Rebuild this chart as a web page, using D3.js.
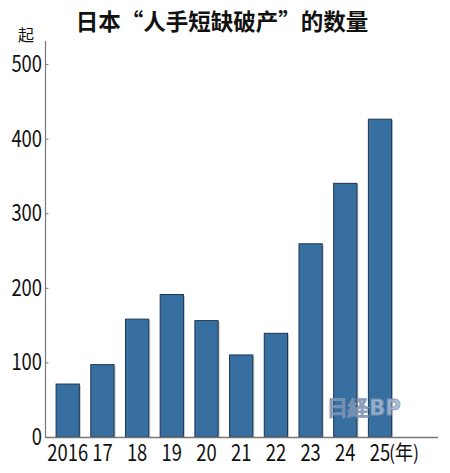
<!DOCTYPE html>
<html><head><meta charset="utf-8">
<script src="https://cdn.jsdelivr.net/npm/d3@7"></script>
<style>
html,body{margin:0;padding:0;background:#fff;}
svg{display:block;}
.num{font-family:"Noto Sans CJK SC","Noto Sans",sans-serif;font-size:23px;fill:#111;}
</style></head>
<body>
<svg id="chart" width="450" height="473"></svg>
<script>
const years = ["2016","17","18","19","20","21","22","23","24","25"];
const counts = [71, 97, 158, 191, 156, 110, 139, 259, 340, 426];
const yTicks = [0, 100, 200, 300, 400, 500];
const title = "日本“人手短缺破产”的数量";
const unitLabel = "起";
const yearSuffix = "(年)";
const watermark = "日経BP";

const svg = d3.select("#chart");
const x = d3.scaleBand().domain(years).range([50.35, 397.35]).paddingInner(0.33).paddingOuter(0.165);
const y = d3.scaleLinear().domain([0, 500]).range([437, 64]);
const SX = 0.8;

// title
svg.append("text").attr("x", 222).attr("y", 30).attr("text-anchor", "middle")
  .style("font-family", "'Noto Sans CJK SC',sans-serif").style("font-weight", "bold")
  .style("font-size", "22.5px").attr("fill", "#111").text(title);

// unit
svg.append("text").attr("x", 26).attr("y", 41).attr("text-anchor", "middle")
  .style("font-family", "'Noto Sans CJK SC',sans-serif").style("font-size", "16px")
  .attr("fill", "#111").text(unitLabel);

// bars shadow
svg.append("g").selectAll("rect").data(years).join("rect")
  .attr("x", d => x(d) + 1.5).attr("y", (d, i) => y(counts[i]) + 1)
  .attr("width", x.bandwidth()).attr("height", (d, i) => y(0) - y(counts[i]) - 1)
  .attr("fill", "#c8c8c8");

// bars
svg.append("g").selectAll("rect").data(years).join("rect")
  .attr("x", d => x(d)).attr("y", (d, i) => y(counts[i]))
  .attr("width", x.bandwidth()).attr("height", (d, i) => y(0) - y(counts[i]))
  .attr("fill", "#376fa0").attr("stroke", "#1d3553").attr("stroke-width", 1);

// watermark
svg.append("text").attr("x", 364).attr("y", 415).attr("text-anchor", "middle")
  .style("font-family", "'DejaVu Sans',sans-serif").style("font-weight", "bold")
  .style("font-size", "21px").attr("fill", "#a3b6d2").attr("stroke", "#7f93b5")
  .attr("stroke-width", 0.8).attr("opacity", 0.9).text(watermark);

// y axis
const yAxis = d3.axisRight(y).tickValues(yTicks).tickSize(3).tickFormat("");
const gy = svg.append("g").attr("transform", "translate(45.5,0)").call(yAxis);
gy.select(".domain").remove();
gy.selectAll(".tick line").attr("stroke", "#777");
svg.append("line").attr("x1", 45.5).attr("x2", 45.5).attr("y1", 41).attr("y2", 437.5)
  .attr("stroke", "#777").attr("stroke-width", 1.2);
svg.append("g").selectAll("text").data(yTicks).join("text")
  .attr("class", "num").attr("text-anchor", "end")
  .attr("transform", d => `translate(42,${y(d) + 8}) scale(${SX},1)`)
  .text(d => d);

// x axis
const xAxis = d3.axisBottom(x).tickSize(0).tickFormat("");
const gx = svg.append("g").attr("transform", "translate(0,437.5)").call(xAxis);
gx.select(".domain").remove();
svg.append("line").attr("x1", 45).attr("x2", 438).attr("y1", 437.5).attr("y2", 437.5)
  .attr("stroke", "#777").attr("stroke-width", 1.5);
svg.append("g").selectAll("text").data(years).join("text")
  .attr("class", "num").attr("text-anchor", "middle")
  .attr("transform", d => `translate(${x(d) + x.bandwidth() / 2},461) scale(${SX},1)`)
  .text(d => d);
svg.append("text").attr("transform", `translate(389,460) scale(0.9,1)`)
  .style("font-family", "'Noto Sans CJK SC',sans-serif").style("font-size", "20px")
  .attr("fill", "#111").text(yearSuffix);
</script>
</body></html>
